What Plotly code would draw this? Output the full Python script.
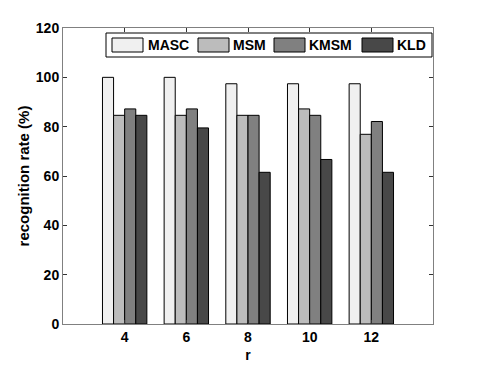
import plotly.graph_objects as go

# group positions and labels (r values)
groups = [1, 2, 3, 4, 5]
r_labels = ["4", "6", "8", "10", "12"]
y_ticks = [0, 20, 40, 60, 80, 100, 120]

masc = [100.0, 100.0, 97.4, 97.4, 97.4]
msm = [84.6, 84.6, 84.6, 87.2, 76.9]
kmsm = [87.2, 87.2, 84.6, 84.6, 82.1]
kld = [84.6, 79.5, 61.5, 66.7, 61.5]

names = ["MASC", "MSM", "KMSM", "KLD"]
colors = ["#f0f0f0", "#bcbcbc", "#808080", "#484848"]
values = [masc, msm, kmsm, kld]

font_name = "Liberation Sans"
# page body has an 8px margin, so the figure is a bit smaller than the window
OFF = 8
W, H = 477, 357
L, R, T, B = 55, 52, 20, 41


def px(x):
    # window pixel -> paper coordinate
    return (x - OFF - L) / (W - L - R)


def py(y):
    return (H - B - (y - OFF)) / (H - T - B)


fig = go.Figure()
for name, vals, color in zip(names, values, colors):
    fig.add_trace(go.Bar(
        x=groups, y=vals, name=name,
        marker=dict(color=color, line=dict(color="#000000", width=1)),
    ))

# legend drawn by hand so the swatches are wide like in matlab
shapes = [dict(type="rect", xref="paper", yref="paper",
               x0=px(106), x1=px(432), y0=py(57), y1=py(33),
               line=dict(color="#000000", width=1), fillcolor="white", layer="above")]
annotations = []
sw_left = [112, 198, 274, 362]
lb_left = [146, 231, 307, 395]
for name, color, sx, lx in zip(names, colors, sw_left, lb_left):
    shapes.append(dict(type="rect", xref="paper", yref="paper",
                       x0=px(sx), x1=px(sx + 31), y0=py(52), y1=py(38),
                       line=dict(color="#000000", width=1), fillcolor=color, layer="above"))
    annotations.append(dict(text="<b>%s</b>" % name, xref="paper", yref="paper",
                            x=px(lx), y=py(45), xanchor="left", yanchor="middle",
                            showarrow=False, font=dict(size=14)))

fig.update_layout(
    width=W, height=H,
    margin=dict(l=L, r=R, t=T, b=B),
    paper_bgcolor="white", plot_bgcolor="white",
    barmode="group", bargap=0.28, bargroupgap=0.0,
    font=dict(family=font_name, size=14, color="black"),
    showlegend=False,
    shapes=shapes, annotations=annotations,
)

fig.update_xaxes(
    range=[0, 6], tickvals=groups, ticktext=["<b>%s</b>" % t for t in r_labels],
    ticks="inside", ticklen=4, tickcolor="#333333",
    showline=True, linecolor="#808080", linewidth=1, mirror="ticks",
    showgrid=False, zeroline=False, automargin=False,
    title=dict(text="<b>r</b>", standoff=6, font=dict(size=14)),
    tickfont=dict(size=14),
)
fig.update_yaxes(
    range=[0, 120], tickvals=y_ticks,
    ticktext=["<b>%d</b>" % v for v in y_ticks],
    ticks="inside", ticklen=4, tickcolor="#333333",
    showline=True, linecolor="#808080", linewidth=1, mirror="ticks",
    showgrid=False, zeroline=False, automargin=False,
    title=dict(text="<b>recognition rate (%)</b>", standoff=2, font=dict(size=15)),
    tickfont=dict(size=14),
)

fig.write_html("out.html")
